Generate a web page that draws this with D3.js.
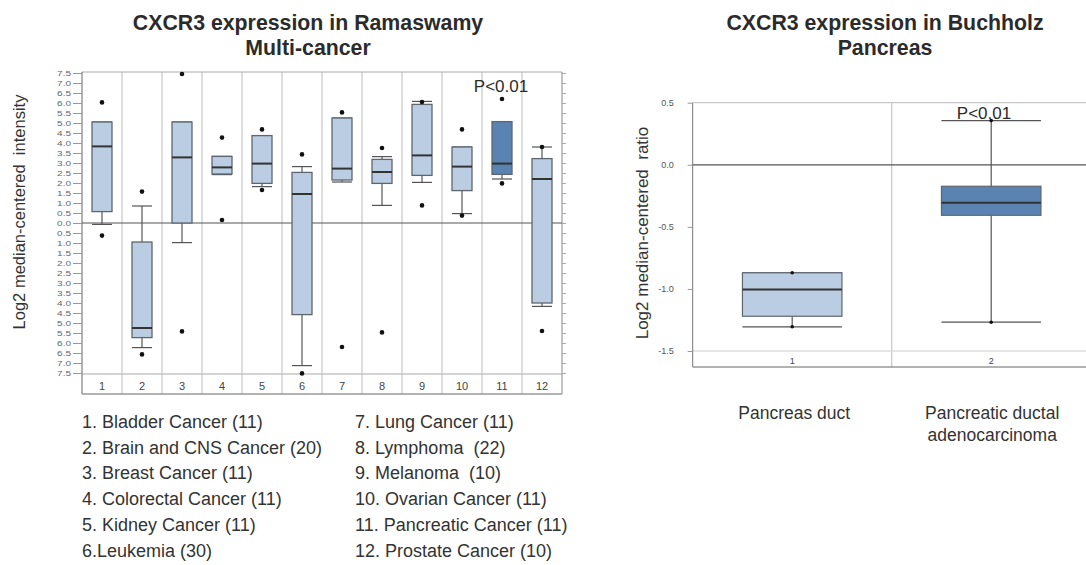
<!DOCTYPE html>
<html><head><meta charset="utf-8">
<script src="https://cdn.jsdelivr.net/npm/d3@7"></script>
<style>
body{margin:0;background:#fff;}
svg{display:block;}
text{font-family:"Liberation Sans",Arial,sans-serif;}
</style></head>
<body>
<svg id="c" width="1086" height="565"></svg>
<script>
// ---------- Left chart data (Ramaswamy Multi-cancer) ----------
const categories = ["1","2","3","4","5","6","7","8","9","10","11","12"];
const q1          = [0.57, -5.73, 0.00, 2.45, 1.98, -4.58, 2.15, 1.98, 2.38, 1.62, 2.43, -4.00];
const median      = [3.83, -5.25, 3.28, 2.78, 2.97,  1.45, 2.72, 2.55, 3.38, 2.82, 2.97,  2.20];
const q3          = [5.05, -0.95, 5.05, 3.33, 4.37,  2.53, 5.25, 3.18, 5.93, 3.80, 5.07,  3.22];
const whiskerLow  = [-0.07, -6.23, -0.98, 2.42, 1.82, -7.13, 2.05, 0.88, 2.03, 0.47, 2.20, -4.17];
const whiskerHigh = [5.05,  0.85,  5.05, 3.33, 4.37,  2.82, 5.25, 3.32, 6.08, 3.80, 5.07,  3.80];
const outliers    = [[6.03,-0.63],[1.57,-6.57],[7.45,-5.42],[4.27,0.15],[4.68,1.65],[3.43,-7.52],
                     [5.53,-6.20],[3.75,-5.47],[6.05,0.88],[4.68,0.37],[6.20,1.98],[3.80,-5.40]];
const highlighted = ["11"];
const yTicksLeft  = d3.range(-7.5, 7.51, 0.5);
const legendLabels = ["1. Bladder Cancer (11)","2. Brain and CNS Cancer (20)","3. Breast Cancer (11)",
  "4. Colorectal Cancer (11)","5. Kidney Cancer (11)","6.Leukemia (30)",
  "7. Lung Cancer (11)","8. Lymphoma  (22)","9. Melanoma  (10)","10. Ovarian Cancer (11)",
  "11. Pancreatic Cancer (11)","12. Prostate Cancer (10)"];

// ---------- Right chart data (Buchholz Pancreas) ----------
const groups2      = ["1","2"];
const groupNames2  = [["Pancreas duct"],["Pancreatic ductal","adenocarcinoma"]];
const q1b          = [-1.22, -0.407];
const medianb      = [-1.005, -0.305];
const q3b          = [-0.87, -0.173];
const whiskerLowb  = [-1.305, -1.268];
const whiskerHighb = [-0.87, 0.356];
const pointsb      = [[-0.87,-1.305],[0.356,-1.268]];
const highlighted2 = ["2"];
const yTicksRight  = [0.5, 0.0, -0.5, -1.0, -1.5];

const LIGHT="#bacde2", DARK="#5a83b1", BOXSTROKE="#5f6670", MED="#333", GRID="#c6c6c6";
const TITLE_FS = 21.3;
const svg = d3.select("#c");

// ================= LEFT CHART =================
{
  const L=82, R=562, T=72, B0=374, B=394;
  const y = d3.scaleLinear().domain([-7.5,7.5]).range([373,73]);
  const x = d3.scaleBand().domain(categories).range([L,R]);
  const g = svg.append("g");

  g.append("text").attr("x",308).attr("y",30).attr("text-anchor","middle")
    .attr("font-size",TITLE_FS).attr("font-weight","bold").attr("fill","#2b2b2b").text("CXCR3 expression in Ramaswamy");
  g.append("text").attr("x",308).attr("y",55).attr("text-anchor","middle")
    .attr("font-size",TITLE_FS).attr("font-weight","bold").attr("fill","#2b2b2b").text("Multi-cancer");

  g.selectAll("line.div").data(categories.slice(1)).join("line")
    .attr("x1",d=>x(d)).attr("x2",d=>x(d)).attr("y1",T).attr("y2",B)
    .attr("stroke",GRID).attr("stroke-width",1.2);
  g.append("line").attr("x1",L).attr("x2",R).attr("y1",T).attr("y2",T).attr("stroke","#aaa");
  g.append("line").attr("x1",L).attr("x2",R).attr("y1",B0).attr("y2",B0).attr("stroke",GRID).attr("stroke-width",1.5);
  g.append("line").attr("x1",L).attr("x2",R).attr("y1",B).attr("y2",B).attr("stroke","#666");
  g.append("line").attr("x1",L).attr("x2",L).attr("y1",T).attr("y2",B).attr("stroke","#666");
  g.append("line").attr("x1",R).attr("x2",R).attr("y1",T).attr("y2",B).attr("stroke","#888");

  const ax = g.append("g").attr("transform",`translate(${L},0)`)
    .call(d3.axisLeft(y).tickValues(yTicksLeft).tickSize(9).tickPadding(2)
      .tickFormat(v=>d3.format(".1f")(Math.abs(v))));
  ax.select(".domain").remove();
  ax.selectAll("line").attr("stroke","#999");
  ax.selectAll(".tick text").attr("font-family","DejaVu Sans, sans-serif").attr("font-size",10)
    .attr("fill","#666").attr("dy","0.36em").attr("transform","scale(1,0.8)");
  const axr = g.append("g").attr("transform",`translate(${R},0)`)
    .call(d3.axisRight(y).tickValues(yTicksLeft).tickSize(4).tickFormat(""));
  axr.select(".domain").remove();
  axr.selectAll("line").attr("stroke","#aaa");

  g.append("line").attr("x1",L).attr("x2",R).attr("y1",y(0)).attr("y2",y(0)).attr("stroke","#555").attr("stroke-width",1.2);

  g.selectAll("text.cat").data(categories).join("text")
    .attr("x",d=>x(d)+x.bandwidth()/2).attr("y",390).attr("text-anchor","middle")
    .attr("font-family","DejaVu Sans, sans-serif").attr("font-size",11).attr("fill","#444").text(d=>d);

  g.append("text").attr("transform","translate(25,212) rotate(-90)").attr("text-anchor","middle")
    .attr("font-size",16.5).attr("fill","#333").attr("xml:space","preserve").text("Log2 median-centered  intensity");

  const bw = x.bandwidth()/2;
  categories.forEach((c,i)=>{
    const cx = x(c)+x.bandwidth()/2;
    const gg = g.append("g");
    gg.append("line").attr("x1",cx).attr("x2",cx).attr("y1",y(q3[i])).attr("y2",y(whiskerHigh[i])).attr("stroke","#555").attr("stroke-width",1.2);
    gg.append("line").attr("x1",cx).attr("x2",cx).attr("y1",y(q1[i])).attr("y2",y(whiskerLow[i])).attr("stroke","#555").attr("stroke-width",1.2);
    [whiskerHigh[i], whiskerLow[i]].forEach(w=>{
      gg.append("line").attr("x1",cx-bw/2).attr("x2",cx+bw/2).attr("y1",y(w)).attr("y2",y(w)).attr("stroke","#555").attr("stroke-width",1.2);
    });
    gg.append("rect").attr("x",cx-bw/2).attr("width",bw).attr("y",y(q3[i])).attr("height",y(q1[i])-y(q3[i]))
      .attr("fill",highlighted.includes(c)?DARK:LIGHT).attr("stroke",BOXSTROKE).attr("stroke-width",1.3);
    gg.append("line").attr("x1",cx-bw/2).attr("x2",cx+bw/2).attr("y1",y(median[i])).attr("y2",y(median[i])).attr("stroke",MED).attr("stroke-width",2);
    gg.selectAll("circle").data(outliers[i]).join("circle").attr("cx",cx).attr("cy",d=>y(d)).attr("r",2.3).attr("fill","#111");
  });

  g.append("text").attr("x",501).attr("y",92).attr("text-anchor","middle").attr("font-size",17).attr("fill","#2b2b2b").text("P<0.01");

  legendLabels.forEach((t,i)=>{
    const col = Math.floor(i/6), row = i%6;
    g.append("text").attr("x",col?355:82).attr("y",428+row*25.7).attr("font-size",18).attr("fill","#333")
      .attr("xml:space","preserve").text(t);
  });
}

// ================= RIGHT CHART =================
{
  const L=692.7, R=1090.7, T=102.7, B=367;
  const y = d3.scaleLinear().domain([-1.5,0.5]).range([351,102.7]);
  const x = d3.scaleBand().domain(groups2).range([L,R]);
  const g = svg.append("g");

  g.append("text").attr("x",885).attr("y",30).attr("text-anchor","middle")
    .attr("font-size",TITLE_FS).attr("font-weight","bold").attr("fill","#2b2b2b").text("CXCR3 expression in Buchholz");
  g.append("text").attr("x",885).attr("y",55).attr("text-anchor","middle")
    .attr("font-size",TITLE_FS).attr("font-weight","bold").attr("fill","#2b2b2b").text("Pancreas");

  g.append("line").attr("x1",L).attr("x2",R).attr("y1",T).attr("y2",T).attr("stroke","#bbb");
  g.selectAll("line.div").data(groups2.slice(1)).join("line")
    .attr("x1",d=>x(d)).attr("x2",d=>x(d)).attr("y1",T).attr("y2",B).attr("stroke",GRID).attr("stroke-width",1.2);
  g.append("line").attr("x1",L).attr("x2",R).attr("y1",y(-1.5)).attr("y2",y(-1.5)).attr("stroke","#ddd").attr("stroke-width",1.5);
  g.append("line").attr("x1",L).attr("x2",R).attr("y1",B).attr("y2",B).attr("stroke","#666");
  g.append("line").attr("x1",L).attr("x2",L).attr("y1",T).attr("y2",B).attr("stroke","#777");

  const ax = g.append("g").attr("transform",`translate(${L},0)`)
    .call(d3.axisLeft(y).tickValues(yTicksRight).tickSize(5).tickPadding(14)
      .tickFormat(v=>d3.format(".1f")(v).replace("\u2212","-")));
  ax.select(".domain").remove();
  ax.selectAll("line").attr("stroke","#999");
  ax.selectAll("text").attr("font-family","DejaVu Sans, sans-serif").attr("font-size",9).attr("fill","#555");

  g.append("line").attr("x1",L).attr("x2",R).attr("y1",y(0)).attr("y2",y(0)).attr("stroke","#555").attr("stroke-width",1.2);

  g.selectAll("text.cat").data(groups2).join("text")
    .attr("x",d=>x(d)+x.bandwidth()/2).attr("y",364).attr("text-anchor","middle")
    .attr("font-family","DejaVu Sans, sans-serif").attr("font-size",9).attr("fill","#444").text(d=>d);

  g.append("text").attr("transform","translate(648,233) rotate(-90)").attr("text-anchor","middle")
    .attr("font-size",17).attr("fill","#333").attr("xml:space","preserve").text("Log2 median-centered  ratio");

  const bw = x.bandwidth()/2;
  groups2.forEach((c,i)=>{
    const cx = x(c)+x.bandwidth()/2;
    const gg = g.append("g");
    gg.append("line").attr("x1",cx).attr("x2",cx).attr("y1",y(whiskerHighb[i])).attr("y2",y(whiskerLowb[i])).attr("stroke","#555").attr("stroke-width",1.2);
    [whiskerHighb[i], whiskerLowb[i]].forEach(w=>{
      gg.append("line").attr("x1",cx-bw/2).attr("x2",cx+bw/2).attr("y1",y(w)).attr("y2",y(w)).attr("stroke","#555").attr("stroke-width",1.2);
    });
    gg.append("rect").attr("x",cx-bw/2).attr("width",bw).attr("y",y(q3b[i])).attr("height",y(q1b[i])-y(q3b[i]))
      .attr("fill",highlighted2.includes(c)?DARK:LIGHT).attr("stroke",BOXSTROKE).attr("stroke-width",1.2);
    gg.append("line").attr("x1",cx-bw/2).attr("x2",cx+bw/2).attr("y1",y(medianb[i])).attr("y2",y(medianb[i])).attr("stroke",MED).attr("stroke-width",2);
    gg.selectAll("circle").data(pointsb[i]).join("circle").attr("cx",cx).attr("cy",d=>y(d)).attr("r",1.8).attr("fill","#111");
    groupNames2[i].forEach((t,j)=>{
      g.append("text").attr("x",cx+(i?1:2)).attr("y",419+j*22).attr("text-anchor","middle")
        .attr("font-size",17.5).attr("fill","#333").text(t);
    });
  });

  g.append("text").attr("x",984).attr("y",119).attr("text-anchor","middle").attr("font-size",17).attr("fill","#2b2b2b").text("P<0.01");
}
</script>
</body></html>
